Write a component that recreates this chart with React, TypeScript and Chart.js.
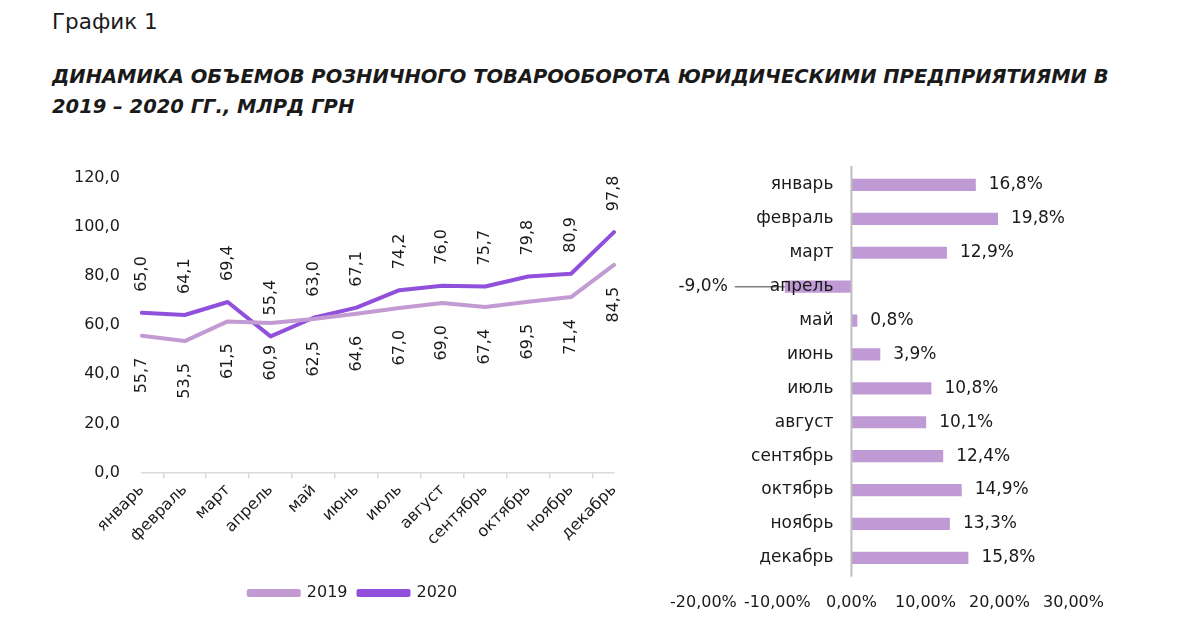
import React, { useEffect, useRef } from "react";
import { Chart, registerables } from "chart.js";

Chart.register(...registerables);

const FONT = "'DejaVu Sans', sans-serif";
const TEXT = "#1a1a1a";

const months = ["январь", "февраль", "март", "апрель", "май", "июнь", "июль", "август", "сентябрь", "октябрь", "ноябрь", "декабрь"];
const seriesNames = ["2019", "2020"];
const values2019 = [55.7, 53.5, 61.5, 60.9, 62.5, 64.6, 67.0, 69.0, 67.4, 69.5, 71.4, 84.5];
const values2020 = [65.0, 64.1, 69.4, 55.4, 63.0, 67.1, 74.2, 76.0, 75.7, 79.8, 80.9, 97.8];
const growth = [16.8, 19.8, 12.9, -9.0, 0.8, 3.9, 10.8, 10.1, 12.4, 14.9, 13.3, 15.8];

const color2019 = "#c39bd3";
const color2020 = "#9150dc";
const barColor = "#c09ad4";

const fmt1 = (v: number) => v.toFixed(1).replace(".", ",");

const lineLabels = {
  id: "lineLabels",
  afterLayout(chart: any) {
    const lg = chart.legend;
    if (lg) {
      lg.left += 16;
      lg.right += 16;
    }
  },
  afterDatasetsDraw(chart: any) {
    const ctx = chart.ctx;
    ctx.save();
    ctx.font = `16px ${FONT}`;
    ctx.fillStyle = TEXT;
    chart.data.datasets.forEach((ds: any, i: number) => {
      const meta = chart.getDatasetMeta(i);
      const above = i === 1;
      meta.data.forEach((pt: any, j: number) => {
        const txt = fmt1(ds.data[j]);
        ctx.save();
        ctx.translate(pt.x, above ? pt.y - 21 : pt.y + 22);
        ctx.rotate(-Math.PI / 2);
        ctx.textAlign = above ? "left" : "right";
        ctx.textBaseline = "middle";
        ctx.fillText(txt, 0, 0);
        ctx.restore();
      });
    });
    ctx.restore();
  },
};

const barLabels = {
  id: "barLabels",
  afterDatasetsDraw(chart: any) {
    const ctx = chart.ctx;
    const xs = chart.scales.x;
    const ys = chart.scales.y;
    const zero = xs.getPixelForValue(0);
    const area = chart.chartArea;
    ctx.save();
    ctx.strokeStyle = "#bfbfbf";
    ctx.lineWidth = 2;
    ctx.beginPath();
    ctx.moveTo(zero, area.top - 2);
    ctx.lineTo(zero, area.bottom + 2);
    ctx.stroke();

    const meta = chart.getDatasetMeta(0);
    ctx.font = `17px ${FONT}`;
    ctx.textBaseline = "middle";
    meta.data.forEach((bar: any, j: number) => {
      const v = growth[j];
      const txt = fmt1(v) + "%";
      if (v >= 0) {
        ctx.fillStyle = TEXT;
        ctx.textAlign = "left";
        ctx.fillText(txt, bar.x + 13, bar.y);
      } else {
        ctx.strokeStyle = "#7f7f7f";
        ctx.lineWidth = 1.5;
        ctx.beginPath();
        ctx.moveTo(bar.x - 50, bar.y);
        ctx.lineTo(bar.x, bar.y);
        ctx.stroke();
        ctx.fillStyle = TEXT;
        ctx.textAlign = "right";
        ctx.fillText(txt, bar.x - 57, bar.y);
      }
    });
    ctx.fillStyle = TEXT;
    ctx.textAlign = "right";
    months.forEach((m, j) => {
      ctx.fillText(m, zero - 18, ys.getPixelForValue(j));
    });
    ctx.restore();
  },
};

function LineChart() {
  const ref = useRef<HTMLCanvasElement>(null);
  useEffect(() => {
    const chart = new Chart(ref.current as HTMLCanvasElement, {
      type: "line",
      data: {
        labels: months,
        datasets: [
          {
            label: seriesNames[0],
            data: values2019,
            borderColor: color2019,
            backgroundColor: color2019,
            borderWidth: 4,
            pointRadius: 0,
            borderJoinStyle: "round",
            borderCapStyle: "round",
          },
          {
            label: seriesNames[1],
            data: values2020,
            borderColor: color2020,
            backgroundColor: color2020,
            borderWidth: 4,
            pointRadius: 0,
            borderJoinStyle: "round",
            borderCapStyle: "round",
          },
        ],
      },
      options: {
        animation: false,
        responsive: false,
        maintainAspectRatio: false,
        layout: { padding: { left: 20, right: 46, top: 12, bottom: 4 } },
        plugins: {
          tooltip: { enabled: false },
          legend: {
            position: "bottom",
            labels: {
              boxWidth: 50,
              boxHeight: 4,
              color: TEXT,
              font: { family: FONT, size: 16 },
              padding: 11,
            },
          },
        },
        scales: {
          x: {
            grid: {
              display: true,
              drawOnChartArea: false,
              drawTicks: true,
              tickLength: 6,
              color: "#d9d9d9",
              lineWidth: 1.5,
              offset: true,
            },
            border: { display: true, color: "#d9d9d9", width: 1.5 },
            ticks: {
              minRotation: 45,
              maxRotation: 45,
              color: TEXT,
              font: { family: FONT, size: 16 },
              padding: 2,
            },
            afterFit: (scale: any) => {
              scale.height += 23;
            },
          },
          y: {
            min: 0,
            max: 120,
            grid: { display: false },
            border: { display: false },
            ticks: {
              stepSize: 20,
              color: TEXT,
              font: { family: FONT, size: 16 },
              padding: 14,
              callback: (v: any) => fmt1(Number(v)),
            },
          },
        },
      },
      plugins: [lineLabels],
    });
    return () => chart.destroy();
  }, []);
  return <canvas ref={ref} width={620} height={461} style={{ position: "absolute", left: 40, top: 154 }} />;
}

function BarChart() {
  const ref = useRef<HTMLCanvasElement>(null);
  useEffect(() => {
    const chart = new Chart(ref.current as HTMLCanvasElement, {
      type: "bar",
      data: {
        labels: months,
        datasets: [
          {
            label: "",
            data: growth,
            backgroundColor: barColor,
            categoryPercentage: 1,
            barPercentage: 0.36,
          },
        ],
      },
      options: {
        indexAxis: "y",
        animation: false,
        responsive: false,
        maintainAspectRatio: false,
        layout: { padding: { left: 10, right: 10, top: 7, bottom: 0 } },
        plugins: { legend: { display: false }, tooltip: { enabled: false } },
        scales: {
          x: {
            min: -20,
            max: 30,
            grid: { display: false },
            border: { display: false },
            ticks: {
              stepSize: 10,
              color: TEXT,
              font: { family: FONT, size: 16 },
              padding: 10,
              callback: (v: any) => Number(v).toFixed(2).replace(".", ",") + "%",
            },
          },
          y: { display: false },
        },
      },
      plugins: [barLabels],
    });
    return () => chart.destroy();
  }, []);
  return <canvas ref={ref} width={454} height={461} style={{ position: "absolute", left: 660, top: 161 }} />;
}

export default function App() {
  return (
    <div style={{ position: "absolute", left: 0, top: 0, width: 1182, height: 627, background: "#fff", overflow: "hidden", fontFamily: FONT, color: TEXT }}>
      <div style={{ position: "absolute", left: 52, top: 9, fontSize: 21.5 }}>График 1</div>
      <div style={{ position: "absolute", left: 52, top: 62, fontSize: 19.5, fontWeight: "bold", fontStyle: "italic", lineHeight: "30px", whiteSpace: "nowrap" }}>
        ДИНАМИКА ОБЪЕМОВ РОЗНИЧНОГО ТОВАРООБОРОТА ЮРИДИЧЕСКИМИ ПРЕДПРИЯТИЯМИ В
        <br />
        2019 – 2020 ГГ., МЛРД ГРН
      </div>
      <LineChart />
      <BarChart />
    </div>
  );
}
